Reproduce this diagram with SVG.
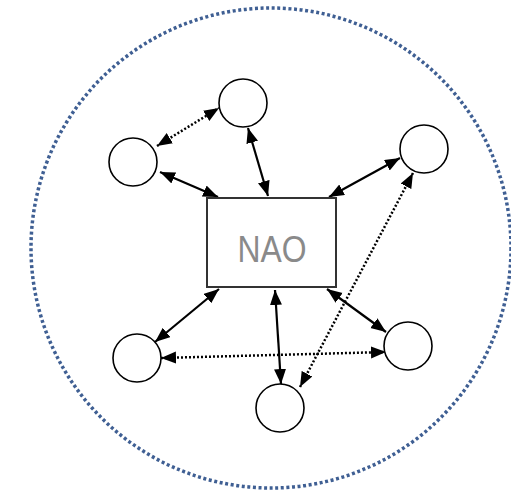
<svg xmlns="http://www.w3.org/2000/svg" width="511" height="495" viewBox="0 0 511 495">
<defs>
<marker id="ah" markerUnits="userSpaceOnUse" markerWidth="16" markerHeight="13" refX="15" refY="6" orient="auto-start-reverse">
<path d="M0,0 L15,6 L0,12 z" fill="#000"/>
</marker>
<style>
.node{fill:#fff;stroke:#000;stroke-width:1.6}
.solid{stroke:#000;stroke-width:2.2;fill:none;marker-start:url(#ah);marker-end:url(#ah)}
.dot{stroke:#000;stroke-width:2.5;stroke-dasharray:2 2;fill:none;marker-start:url(#ah);marker-end:url(#ah)}
</style>
</defs>
<rect width="511" height="495" fill="#fff"/>
<g id="boundary">
<circle cx="271" cy="248" r="240" fill="none" stroke="#3f5f93" stroke-width="3.5" stroke-dasharray="3 2.6"/>
</g>
<g id="connectors">
<line class="solid" x1="160" y1="172" x2="218" y2="197"/>
<line class="solid" x1="248" y1="128" x2="268" y2="196"/>
<line class="solid" x1="400" y1="158" x2="329" y2="197"/>
<line class="solid" x1="155" y1="342" x2="219" y2="289"/>
<line class="solid" x1="275" y1="290" x2="281" y2="384"/>
<line class="solid" x1="327" y1="289" x2="386" y2="332"/>
<line class="dot" x1="157" y1="146" x2="219" y2="108"/>
<line class="dot" x1="161" y1="358" x2="386" y2="352"/>
<line class="dot" x1="300" y1="387" x2="413" y2="173"/>
</g>
<g id="nao">
<rect x="207" y="198" width="129" height="89" fill="#fff" stroke="#333" stroke-width="2"/>
<text x="272" y="262" font-family="Liberation Sans, Arial, sans-serif" font-size="36" fill="#8a8a8a" text-anchor="middle" textLength="69" lengthAdjust="spacingAndGlyphs">NAO</text>
</g>
<g id="n1"><circle class="node" cx="243" cy="103" r="24"/></g>
<g id="n2"><circle class="node" cx="133" cy="162" r="24"/></g>
<g id="n3"><circle class="node" cx="424" cy="149" r="24"/></g>
<g id="n4"><circle class="node" cx="137" cy="358" r="24"/></g>
<g id="n5"><circle class="node" cx="280" cy="408" r="24"/></g>
<g id="n6"><circle class="node" cx="408" cy="346" r="24"/></g>
</svg>
